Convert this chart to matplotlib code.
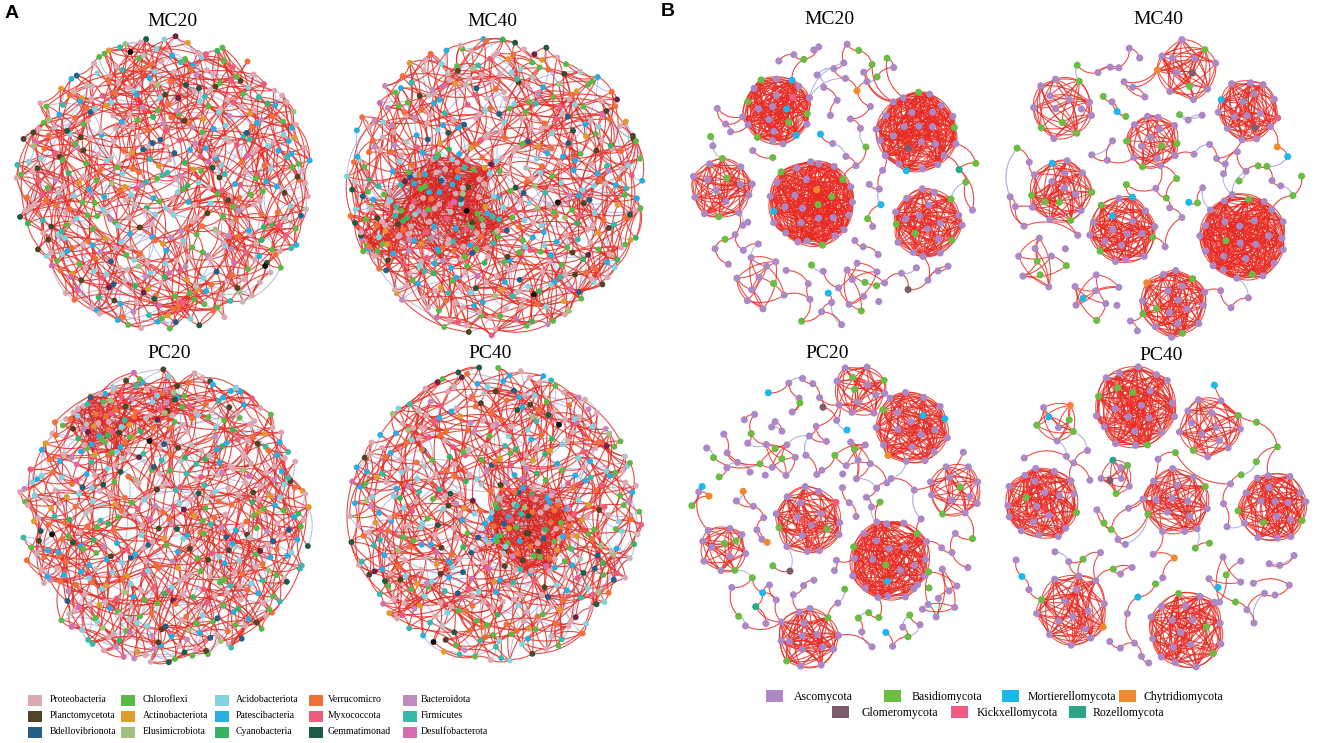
import numpy as np
import matplotlib
matplotlib.use("Agg")
import matplotlib.pyplot as plt
from matplotlib.collections import LineCollection
from matplotlib.patches import Rectangle

# ======================= data =======================
bac_phyla = ["Proteobacteria", "Planctomycetota", "Bdellovibrionota",
             "Chloroflexi", "Actinobacteriota", "Elusimicrobiota",
             "Acidobacteriota", "Patescibacteria", "Cyanobacteria",
             "Verrucomicro", "Myxococcota", "Gemmatimonad",
             "Bacteroidota", "Firmicutes", "Desulfobacterota"]
bac_colors = ["#DCA9B2", "#4E4526", "#265E8A", "#5DB947", "#DF9A30", "#A4C07F",
              "#84D1E0", "#29AEE3", "#37B463", "#EF7039", "#EE5B7E", "#1F5A45",
              "#C08BBE", "#36BBAA", "#D56BB1"]
bac_other_colors = ["#BDBDBD", "#6A2445", "#111111"]   # unclassified nodes (no legend entry)

# node counts per phylum (15 legend phyla + 3 unclassified groups)
bac_MC20 = [115, 22, 12, 62, 20, 9, 48, 40, 14, 52, 24, 9, 24, 20, 9, 14, 4, 2]
bac_MC40 = [125, 20, 18, 70, 22, 8, 45, 55, 16, 50, 22, 10, 22, 24, 8, 16, 5, 3]
bac_PC20 = [118, 24, 14, 58, 22, 10, 42, 50, 16, 60, 22, 12, 22, 26, 8, 14, 6, 2]
bac_PC40 = [110, 20, 14, 52, 20, 10, 44, 52, 14, 58, 24, 12, 20, 28, 8, 14, 6, 2]

fungi_phyla = ["Ascomycota", "Basidiomycota", "Mortierellomycota", "Chytridiomycota",
               "Glomeromycota", "Kickxellomycota", "Rozellomycota"]
fungi_colors = ["#AD88C6", "#6BBB45", "#1DB8EA", "#EF8A30", "#7B5D6E", "#EE5C80", "#2BA587"]

# fungal modules: node counts per phylum (Asco, Basid, Mort, Chytr, Glom, Kick, Roz)
fun_MC20_modules = [[14, 5, 3, 0, 0, 1, 0], [22, 2, 1, 0, 1, 0, 0], [22, 5, 1, 1, 0, 0, 0],
                    [16, 4, 0, 0, 0, 0, 0], [12, 3, 0, 0, 0, 0, 0], [10, 1, 0, 0, 0, 0, 0],
                    [9, 3, 0, 0, 0, 0, 0]]
fun_MC20_scatter = [52, 14, 3, 1, 1, 0, 1]
fun_MC40_modules = [[9, 2, 0, 1, 1, 0, 0], [14, 0, 1, 0, 1, 1, 0], [10, 4, 0, 0, 0, 0, 0],
                    [11, 4, 0, 0, 0, 0, 0], [10, 5, 1, 0, 0, 0, 0], [14, 3, 2, 0, 0, 0, 0],
                    [24, 3, 0, 0, 0, 0, 0], [7, 3, 0, 0, 0, 0, 0], [7, 1, 1, 0, 0, 0, 0],
                    [14, 4, 0, 1, 0, 0, 0]]
fun_MC40_scatter = [38, 14, 3, 1, 0, 0, 0]
fun_PC20_modules = [[10, 3, 0, 0, 0, 0, 0], [16, 1, 2, 1, 0, 0, 0], [10, 2, 0, 0, 0, 0, 0],
                    [14, 2, 0, 0, 0, 1, 0], [20, 3, 1, 0, 0, 0, 0], [14, 2, 0, 0, 0, 0, 0],
                    [9, 3, 0, 0, 0, 0, 0], [6, 3, 0, 0, 0, 0, 0], [7, 2, 0, 0, 0, 0, 0],
                    [9, 2, 0, 0, 0, 0, 0]]
fun_PC20_scatter = [62, 16, 5, 3, 2, 0, 1]
fun_PC40_modules = [[18, 4, 0, 0, 0, 0, 0], [12, 2, 0, 0, 0, 0, 0], [3, 3, 1, 1, 0, 0, 0],
                    [18, 2, 0, 0, 0, 0, 0], [14, 2, 0, 0, 0, 0, 0], [16, 3, 0, 0, 0, 0, 0],
                    [4, 2, 0, 0, 1, 0, 1], [14, 1, 0, 1, 0, 0, 0], [16, 3, 0, 0, 0, 0, 0],
                    [6, 2, 1, 0, 0, 0, 0]]
fun_PC40_scatter = [36, 12, 3, 1, 0, 0, 0]

titles = ["MC20", "MC40", "PC20", "PC40"]

# ======================= layout (pixels) =======================
W, H = 1325, 743
A_discs = [(164, 183, 148), (495, 186, 150), (165, 517, 148), (496, 514, 148)]
A_title_pos = [(172, 21), (492, 21), (169, 353), (490, 354)]
A_clusters = [[], [(445, 210, 58, 42), (382, 230, 32, 16)],
              [(102, 422, 34, 24), (170, 405, 20, 9)], [(527, 525, 46, 36)]]
A_starts = [11, 977, 2203, 3511]

B_discs = [(836, 185, 142), (1155, 190, 148), (836, 515, 146), (1158, 518, 150)]
B_title_pos = [(829, 20), (1158, 20), (827, 354), (1161, 355)]
B_mod_geom = [
    [(777, 110, 36, 1.0), (917, 132, 42, 1.0), (812, 203, 45, 1.0), (927, 223, 36, 1.0),
     (722, 188, 32, 1.0), (763, 282, 28, 0.45), (862, 287, 25, 0.35)],
    [(1187, 70, 32, 0.85), (1248, 110, 32, 1.0), (1062, 108, 33, 0.6), (1153, 142, 28, 0.6),
     (1060, 192, 33, 0.7), (1123, 230, 35, 1.0), (1243, 237, 45, 1.0), (1043, 262, 27, 0.45),
     (1097, 297, 25, 0.45), (1173, 303, 35, 0.8)],
    [(860, 390, 28, 0.7), (912, 428, 38, 1.0), (955, 490, 28, 0.6), (808, 520, 35, 1.0),
     (890, 560, 42, 1.0), (808, 638, 32, 1.0), (724, 549, 25, 0.6), (777, 460, 20, 0.4),
     (853, 460, 20, 0.4), (937, 593, 25, 0.35)],
    [(1135, 407, 43, 1.0), (1210, 427, 32, 0.8), (1057, 422, 22, 0.6), (1042, 503, 38, 1.0),
     (1177, 502, 35, 1.0), (1273, 507, 36, 1.0), (1117, 477, 18, 0.6), (1073, 610, 38, 1.0),
     (1187, 630, 40, 1.0), (1230, 580, 25, 0.35)],
]
B_modules = [fun_MC20_modules, fun_MC40_modules, fun_PC20_modules, fun_PC40_modules]
B_scatter = [fun_MC20_scatter, fun_MC40_scatter, fun_PC20_scatter, fun_PC40_scatter]
A_counts = [bac_MC20, bac_MC40, bac_PC20, bac_PC40]

RED_A, BLUE = "#E52E26", "#A3A8DA"
RED_B = "#E82A22"


# ======================= helpers =======================
def halton(i, b):
    f, r = 1.0, 0.0
    while i > 0:
        f /= b
        r += f * (i % b)
        i //= b
    return r


def disk_layout(n, cx, cy, r, start, avoid=()):
    pts, i = [], start
    while len(pts) < n:
        u = 2 * halton(i, 2) - 1
        v = 2 * halton(i, 3) - 1
        i += 1
        if u * u + v * v > 1:
            continue
        x, y = cx + r * u, cy + r * v
        if any((x - ax) ** 2 + (y - ay) ** 2 < ar ** 2 for ax, ay, ar in avoid):
            continue
        pts.append((x, y))
    return np.array(pts)


def mixed_labels(counts):
    lab = np.repeat(np.arange(len(counts)), counts)
    n = len(lab)
    order = np.argsort((np.arange(n) * 0.6180339887) % 1.0)
    out = np.empty(n, dtype=int)
    out[order] = lab
    return out


def arcs(P, Q, bend, nseg=14, center=None):
    P, Q = np.asarray(P, float), np.asarray(Q, float)
    d = Q - P
    perp = np.stack([-d[:, 1], d[:, 0]], 1)
    M = (P + Q) / 2
    b = np.full(len(P), bend, float)
    if center is not None:
        s = np.sign(np.sum(perp * (M - np.asarray(center)), axis=1))
        s[s == 0] = 1
        b = b * s
    C = M + b[:, None] * perp
    t = np.linspace(0, 1, nseg)[None, :, None]
    return (1 - t) ** 2 * P[:, None, :] + 2 * (1 - t) * t * C[:, None, :] + t ** 2 * Q[:, None, :]


def draw_edges(ax, pos, edges, blue_mask, red, bend, lw_r, lw_b, a_r, a_b, center=None):
    if not edges:
        return
    E = np.array(edges)
    segs = arcs(pos[E[:, 0]], pos[E[:, 1]], bend, center=center)
    bm = np.array(blue_mask, bool)
    if bm.any():
        ax.add_collection(LineCollection(segs[bm], colors=BLUE, linewidths=lw_b, alpha=a_b, zorder=1))
    ax.add_collection(LineCollection(segs[~bm], colors=red, linewidths=lw_r, alpha=a_r, zorder=2))


# ======================= figure =======================
fig = plt.figure(figsize=(W / 100, H / 100), dpi=100)
ax = fig.add_axes([0, 0, 1, 1])
ax.set_xlim(0, W)
ax.set_ylim(H, 0)
ax.axis("off")

serif = "Liberation Serif"

# ---------------- panel A ----------------
all_bac_colors = bac_colors + bac_other_colors
for p in range(4):
    cx, cy, r = A_discs[p]
    counts = A_counts[p]
    N = sum(counts)
    clus = A_clusters[p]
    n_cl = sum(c[3] for c in clus)
    parts = [disk_layout(N - n_cl, cx, cy, r, A_starts[p])]
    groups = []
    idx0 = N - n_cl
    for k, (qx, qy, qr, qn) in enumerate(clus):
        parts.append(disk_layout(qn, qx, qy, qr, A_starts[p] + 500 + 97 * k))
        groups.append(np.arange(idx0, idx0 + qn))
        idx0 += qn
    pos = np.vstack(parts)
    labels = mixed_labels(counts)
    D = np.hypot(pos[:, None, 0] - pos[None, :, 0], pos[:, None, 1] - pos[None, :, 1])
    order = np.argsort(D, axis=1)
    E = set()
    for i in range(N):
        ks = [1 + (i * 7) % 4, 5 + (i * 13) % 30]
        if i % 2 == 0:
            ks.append(30 + (i * 31) % 70)
        if i % 3 == 0:
            ks.append(3 + (i * 11) % 15)
        if i % 5 == 0:
            ks.append(90 + (i * 17) % 60)
        for k in ks:
            j = order[i, k]
            E.add((min(i, j), max(i, j)))
    cl_edges = set()
    for g in groups:
        for a in g:
            for b in g:
                if a < b and (a * 5 + b * 3) % 3 == 0:
                    cl_edges.add((a, b))
            for k in (10 + a % 30, 40 + (a * 7) % 60):
                j = order[a, k]
                E.add((min(a, j), max(a, j)))
    E = sorted(E - cl_edges)
    blue = [((a + 2 * b) % 5 == 0) for a, b in E]
    draw_edges(ax, pos, E, blue, RED_A, 0.2, 0.8, 0.75, 0.85, 0.75)
    if cl_edges:
        CE = sorted(cl_edges)
        cblue = [((a + b) % 3 == 0) for a, b in CE]
        draw_edges(ax, pos, CE, cblue, "#D8261F", 0.25, 0.6, 0.6, 0.75, 0.8)
    cols = [all_bac_colors[l] for l in labels]
    ax.scatter(pos[:, 0], pos[:, 1], s=18, c=cols, linewidths=0, zorder=3)
    tx, ty = A_title_pos[p]
    ax.text(tx, ty, titles[p], fontsize=14, family=serif, ha="center", va="center", zorder=5)

# ---------------- panel B ----------------
for p in range(4):
    cx, cy, r = B_discs[p]
    geom = B_mod_geom[p]
    mods = B_modules[p]
    allcol, mod_nodes = [], []
    for m, ((mx, my, mr, dens), comp) in enumerate(zip(geom, mods)):
        n = sum(comp)
        n_out = max(3, int(round(n * 0.65)))
        n_in = n - n_out
        ph = 2 * np.pi * halton(m + 7 * p + 3, 5)
        kk = np.arange(n_out)
        jit = np.array([halton(k + 31 * m + 5, 3) for k in kk])
        ang = ph + 2 * np.pi * (kk + 0.4 * jit) / n_out
        rad = mr * (0.84 + 0.14 * np.array([halton(k + 17 * m + 2, 2) for k in kk]))
        outer = np.stack([mx + rad * np.cos(ang), my + rad * np.sin(ang)], 1)
        ki = np.arange(n_in)
        rr = 0.62 * mr * np.sqrt((ki + 0.5) / max(n_in, 1))
        th = ph + ki * 2.39996
        inner = np.stack([mx + rr * np.cos(th), my + rr * np.sin(th)], 1)
        mpos = np.vstack([outer, inner])
        mlab = mixed_labels(comp)
        E = set()
        for a in range(n):
            for b in range(a + 1, n):
                if ((a * 7 + b * 3 + a * b) % 10) < dens * 8:
                    E.add((a, b))
        if dens >= 0.6:
            for k in range(n_out):
                for step in (1, 2, 3):
                    a, b = k, (k + step) % n_out
                    E.add((min(a, b), max(a, b)))
        E = sorted(E)
        # ring-to-ring edges bow outward; edges touching inner nodes keep a fixed bend
        ring = [e for e in E if e[0] < n_out and e[1] < n_out and (e[0] + e[1]) % 3 != 0]
        rest = [e for e in E if not (e[0] < n_out and e[1] < n_out and (e[0] + e[1]) % 3 != 0)]
        draw_edges(ax, mpos, ring, [False] * len(ring), RED_B, 0.22, 0.75, 0.8, 0.85, 0.8,
                   center=(mx, my))
        draw_edges(ax, mpos, rest, [False] * len(rest), RED_B, 0.18, 0.75, 0.8, 0.85, 0.8)
        allcol += [fungi_colors[l] for l in mlab]
        mod_nodes.append(mpos)
    modpos = np.vstack(mod_nodes)
    # scattered small components
    sc = B_scatter[p]
    ns = sum(sc)
    avoid = [(mx, my, mr + 9) for mx, my, mr, _ in geom]
    spos = disk_layout(ns, cx, cy, r, 41 + 613 * p, avoid)
    slab = mixed_labels(sc)
    Ds = np.hypot(spos[:, None, 0] - spos[None, :, 0], spos[:, None, 1] - spos[None, :, 1])
    os_ = np.argsort(Ds, axis=1)
    E = set()
    for i in range(ns):
        j = os_[i, 1]
        if Ds[i, j] < 75:
            E.add((min(i, j), max(i, j)))
        if i % 3 == 0:
            j = os_[i, 2]
            if Ds[i, j] < 70:
                E.add((min(i, j), max(i, j)))
    E = sorted(E)
    blue = [((a + b) % 6 == 0) for a, b in E]
    draw_edges(ax, spos, E, blue, RED_B, 0.3, 0.8, 0.9, 0.85, 0.85)
    # a few links from scattered nodes to modules
    Dm = np.hypot(spos[:, None, 0] - modpos[None, :, 0], spos[:, None, 1] - modpos[None, :, 1])
    L = []
    for i in range(ns):
        j = np.argmin(Dm[i])
        if i % 3 == 1 and Dm[i, j] < 50:
            L.append((i, j))
    if L:
        L = np.array(L)
        segs = arcs(spos[L[:, 0]], modpos[L[:, 1]], 0.3)
        cl = [BLUE if k % 4 == 0 else RED_B for k in range(len(L))]
        ax.add_collection(LineCollection(segs, colors=cl, linewidths=0.8, alpha=0.85, zorder=2))
    P = np.vstack([modpos, spos])
    cols = allcol + [fungi_colors[l] for l in slab]
    ax.scatter(P[:, 0], P[:, 1], s=26, c=cols, linewidths=0, zorder=3)
    tx, ty = B_title_pos[p]
    ax.text(tx, ty, titles[p], fontsize=14, family=serif, ha="center", va="center", zorder=5)

# ---------------- panel labels ----------------
ax.text(5, 14, "A", fontsize=14, fontweight="bold", family="Liberation Sans", ha="left", va="center")
ax.text(661, 12, "B", fontsize=14, fontweight="bold", family="Liberation Sans", ha="left", va="center")

# ---------------- legends ----------------
col_px = [28, 121, 215, 309, 403]
col_tx = [50, 143, 236, 328, 421]
row_py = [700, 716, 732]
for k, (name, c) in enumerate(zip(bac_phyla, bac_colors)):
    ci, ri = k // 3, k % 3
    ax.add_patch(Rectangle((col_px[ci], row_py[ri] - 5.5), 14, 11, facecolor=c, edgecolor="none"))
    ax.text(col_tx[ci], row_py[ri], name, fontsize=7, family=serif, ha="left", va="center")

fx_patch = [766, 884, 1002, 1119, 832, 951, 1069]
fx_text = [794, 912, 1028, 1144, 861, 977, 1093]
fy = [696, 696, 696, 696, 712, 712, 712]
for k, (name, c) in enumerate(zip(fungi_phyla, fungi_colors)):
    ax.add_patch(Rectangle((fx_patch[k], fy[k] - 6), 17, 12, facecolor=c, edgecolor="none"))
    ax.text(fx_text[k], fy[k] + 1, name, fontsize=8.5, family=serif, ha="left", va="center")

fig.savefig("out.png", dpi=100)
